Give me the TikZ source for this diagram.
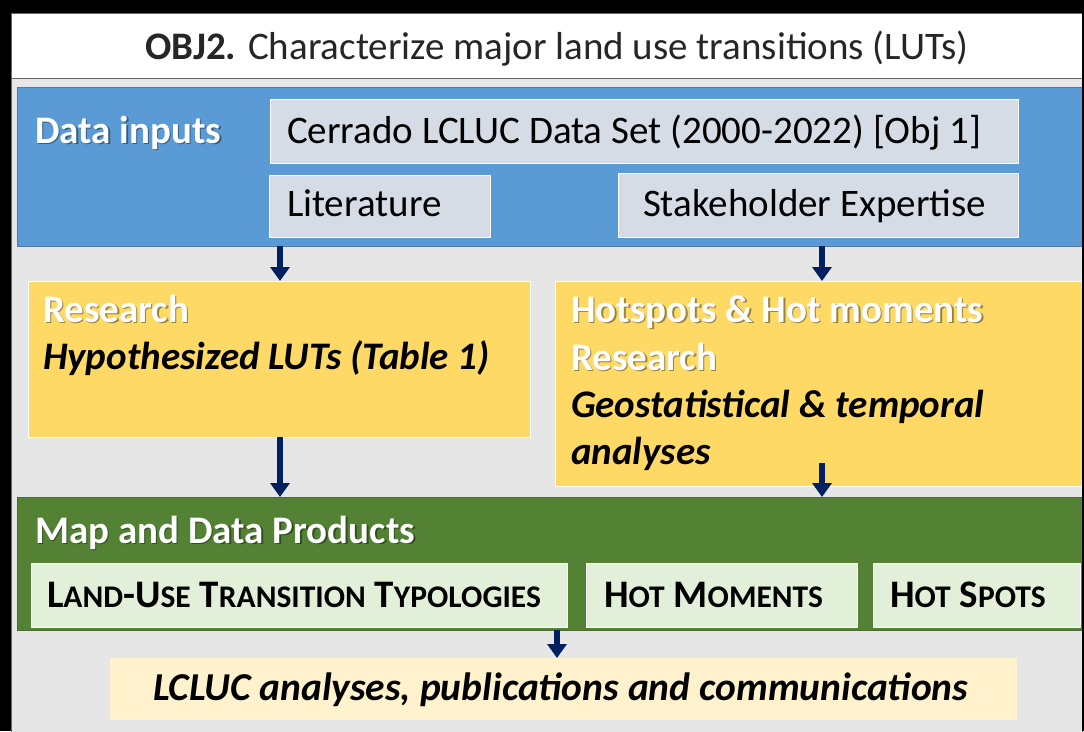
\documentclass[tikz,border=0pt]{standalone}
\usepackage{fontspec}
\setmainfont{Carlito}
\usetikzlibrary{arrows.meta,calc}
\definecolor{bandblue}{HTML}{5B9BD5}
\definecolor{inbox}{HTML}{D6DCE5}
\definecolor{bggray}{HTML}{E7E6E6}
\definecolor{ryellow}{HTML}{FFD966}
\definecolor{bandgreen}{HTML}{548235}
\definecolor{lgreen}{HTML}{E2F0D9}
\definecolor{cream}{HTML}{FFF2CC}
\definecolor{navy}{HTML}{002060}
\newcommand\fsz[1]{\fontsize{#1}{#1}\selectfont}
\newcommand\scl[1]{{\fsz{31.5}#1}}
\tikzset{
 panel/.style={draw=white, line width=1pt, inner sep=0pt, outer sep=0pt, anchor=north west},
 band/.style={line width=0.8pt, inner sep=0pt, outer sep=0pt, anchor=north west},
 txt/.style={anchor=base west, inner sep=0pt, outer sep=0pt, text=black, font=\fsz{39}},
 wtxt/.style={txt, text=white, font=\fsz{39}\bfseries},
 shd/.style={txt, text=black, text opacity=0.4, font=\fsz{39}\bfseries},
 arr/.style={draw=navy, line width=6pt, -{Triangle[width=19pt,length=14pt]}},
}
\begin{document}
\begin{tikzpicture}[x=1pt,y=-1pt]
\useasboundingbox (0,0) rectangle (1084,731);
% frame
\fill[black] (0,0) rectangle (1084,731);
\node[band, fill=white, draw=black!60, minimum width=1071pt, minimum height=65pt] (title) at (11,13) {};
\node[band, fill=bggray, draw=black!60, minimum width=1071pt, minimum height=670pt] (bg) at (11,78) {};
% data inputs band
\node[band, fill=bandblue, draw=bandblue!80!black, minimum width=1065pt, minimum height=159pt] (blue) at (17,87) {};
\node[panel, fill=inbox, minimum width=748pt, minimum height=64pt] (cer) at (270,99) {};
\node[panel, fill=inbox, minimum width=221pt, minimum height=62pt] (lit) at (269,175) {};
\node[panel, fill=inbox, minimum width=400pt, minimum height=64pt] (stk) at (618,173) {};
% research boxes
\node[panel, fill=ryellow, minimum width=502pt, minimum height=156pt] (ly) at (28,281) {};
\node[panel, fill=ryellow, minimum width=527pt, minimum height=205pt] (ry) at (555,281) {};
% products band
\node[band, fill=bandgreen, draw=bandgreen!85!black, minimum width=1065pt, minimum height=133pt] (green) at (17,497) {};
\node[panel, fill=lgreen, minimum width=536pt, minimum height=64pt] (lut) at (31,563) {};
\node[panel, fill=lgreen, minimum width=271pt, minimum height=64pt] (hm) at (586,563) {};
\node[panel, fill=lgreen, minimum width=207pt, minimum height=64pt] (hs) at (873,563) {};
\node[panel, draw=none, fill=cream, minimum width=907pt, minimum height=62pt] (out) at (110,658) {};
% frame edges on top
\fill[black] (1082,0) rectangle (1084,731);
% texts
\node[txt, text=black!85, font=\fsz{39}] (t-title) at (145,59) {\textbf{OBJ2.} Characterize major land use transitions (LUTs)};
\node[shd] (t-di-s) at (36.5,144.5) {Data inputs};
\node[wtxt] (t-di) at (35,143) {Data inputs};
\node[txt] (t-cer) at (287,143) {Cerrado LCLUC Data Set (2000-2022) [Obj 1]};
\node[txt] (t-lit) at (287,216) {Literature};
\node[txt] (t-stk) at (643,216) {Stakeholder Expertise};
\node[shd] (t-r1-s) at (44.5,323.5) {Research};
\node[wtxt] (t-r1) at (43,322) {Research};
\node[txt, font=\fsz{39}\bfseries\itshape] (t-hyp) at (43,369) {Hypothesized LUTs (Table 1)};
\node[shd] (t-hh-s) at (572.5,323.5) {Hotspots \& Hot moments};
\node[wtxt] (t-hh) at (571,322) {Hotspots \& Hot moments};
\node[shd] (t-r2-s) at (572.5,371.5) {Research};
\node[wtxt] (t-r2) at (571,370) {Research};
\node[txt, font=\fsz{39}\bfseries\itshape] (t-geo) at (571,417) {Geostatistical \& temporal};
\node[txt, font=\fsz{39}\bfseries\itshape] (t-ana) at (571,464) {analyses};
\node[shd] (t-map-s) at (36.5,544.5) {Map and Data Products};
\node[wtxt] (t-map) at (35,543) {Map and Data Products};
\node[txt, font=\fsz{39}\bfseries] (t-lut) at (47,607) {L\scl{AND}-U\scl{SE} T\scl{RANSITION} T\scl{YPOLOGIES}};
\node[txt, font=\fsz{39}\bfseries] (t-hm) at (604,607) {H\scl{OT} M\scl{OMENTS}};
\node[txt, font=\fsz{39}\bfseries] (t-hs) at (890,607) {H\scl{OT} S\scl{POTS}};
\node[txt, font=\fsz{39.5}\bfseries\itshape] (t-out) at (153,700) {LCLUC analyses, publications and communications};
% arrows
\coordinate (xa) at (280,0);
\coordinate (xb) at (822,0);
\coordinate (xc) at (557,0);
\coordinate (sb) at (822,463);
\draw[arr] (xa |- blue.south) -- (xa |- ly.north);
\draw[arr] (xb |- blue.south) -- (xb |- ry.north);
\draw[arr] (xa |- ly.south) -- (xa |- green.north);
\draw[arr] (sb) -- (xb |- green.north);
\draw[arr] (xc |- green.south) -- (xc |- out.north);
\end{tikzpicture}
\end{document}
